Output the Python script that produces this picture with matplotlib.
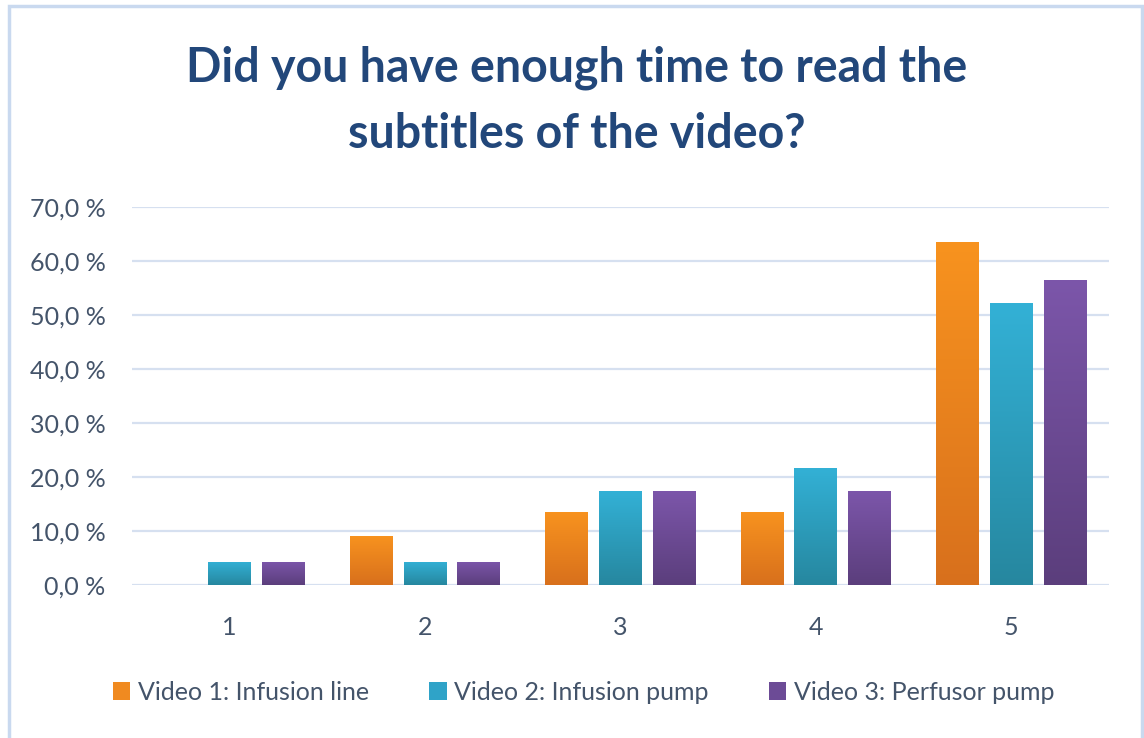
import matplotlib
matplotlib.use("Agg")
import matplotlib.pyplot as plt
import numpy as np
from matplotlib.patches import Rectangle
from matplotlib.colors import LinearSegmentedColormap

categories = ["1", "2", "3", "4", "5"]
series_names = ["Video 1: Infusion line", "Video 2: Infusion pump", "Video 3: Perfusor pump"]
video1 = [0.0, 9.1, 13.6, 13.6, 63.6]
video2 = [4.3, 4.3, 17.4, 21.7, 52.2]
video3 = [4.3, 4.3, 17.4, 17.4, 56.5]
yticks = [0, 10, 20, 30, 40, 50, 60, 70]
title = "Did you have enough time to read the\nsubtitles of the video?"

top_colors = ["#f8931f", "#33b1d6", "#7c56aa"]
bot_colors = ["#d8701c", "#26879f", "#5b3e7c"]
legend_colors = ["#f08a20", "#2fa3c8", "#6c4b96"]

plt.rcParams['font.family'] = ['Lato', 'DejaVu Sans']

fig = plt.figure(figsize=(11.44, 7.38), dpi=100)
fig.patch.set_facecolor("white")
# outer border
fig.add_artist(Rectangle((9/1144, -0.01), (1142-9)/1144, 1 - 6/738 + 0.01, transform=fig.transFigure,
                         fill=False, edgecolor="#c9d9ef", linewidth=2.5))

ax = fig.add_axes([132/1144, 153/738, (1109-132)/1144, (531-153)/738])
ax.set_xlim(0.5, 5.5)
ax.set_ylim(0, 70)
for s in ax.spines.values():
    s.set_visible(False)

x = np.arange(1, len(categories) + 1)
width = 0.22
offsets = [-0.275, 0.0, 0.275]
data = [video1, video2, video3]
for i, vals in enumerate(data):
    bars = ax.bar(x + offsets[i], vals, width=width, color=legend_colors[i], zorder=3, linewidth=0)
    cmap = LinearSegmentedColormap.from_list("g%d" % i, [bot_colors[i], top_colors[i]])
    grad = np.linspace(0, 1, 256).reshape(-1, 1)
    for b in bars:
        h = b.get_height()
        if h <= 0:
            continue
        x0 = b.get_x()
        im = ax.imshow(grad, cmap=cmap, origin="lower", aspect="auto",
                       extent=[x0, x0 + b.get_width(), 0, h], zorder=4)
        im.set_clip_path(b)

ax.set_xlim(0.5, 5.5)
ax.set_ylim(0, 70)
ax.set_yticks(yticks)
ax.set_yticklabels(["%s,0 %%" % v for v in yticks])
ax.set_xticks(x)
ax.set_xticklabels(categories)
ax.tick_params(axis="both", length=0, labelsize=18, labelcolor="#44546a")
ax.tick_params(axis="y", pad=19)
ax.tick_params(axis="x", pad=22)
ax.grid(axis="y", color="#d6e0f0", linewidth=1.6, zorder=0)
ax.set_axisbelow(True)

fig.text(0.504, 1 - 101/738, title, ha="center", va="center", fontsize=33.5, fontweight="bold",
         color="#22477a", linespacing=1.6)

handles = [Rectangle((0, 0), 1, 1, facecolor=c, edgecolor="none") for c in legend_colors]
leg = fig.legend(handles, series_names, loc="center", bbox_to_anchor=(0.51, 1 - 692/738), ncol=3,
                 frameon=False, fontsize=18, handlelength=0.7, handleheight=0.7, handletextpad=0.3,
                 columnspacing=2.4)
for t in leg.get_texts():
    t.set_color("#44546a")

fig.savefig("out.png", dpi=100)
